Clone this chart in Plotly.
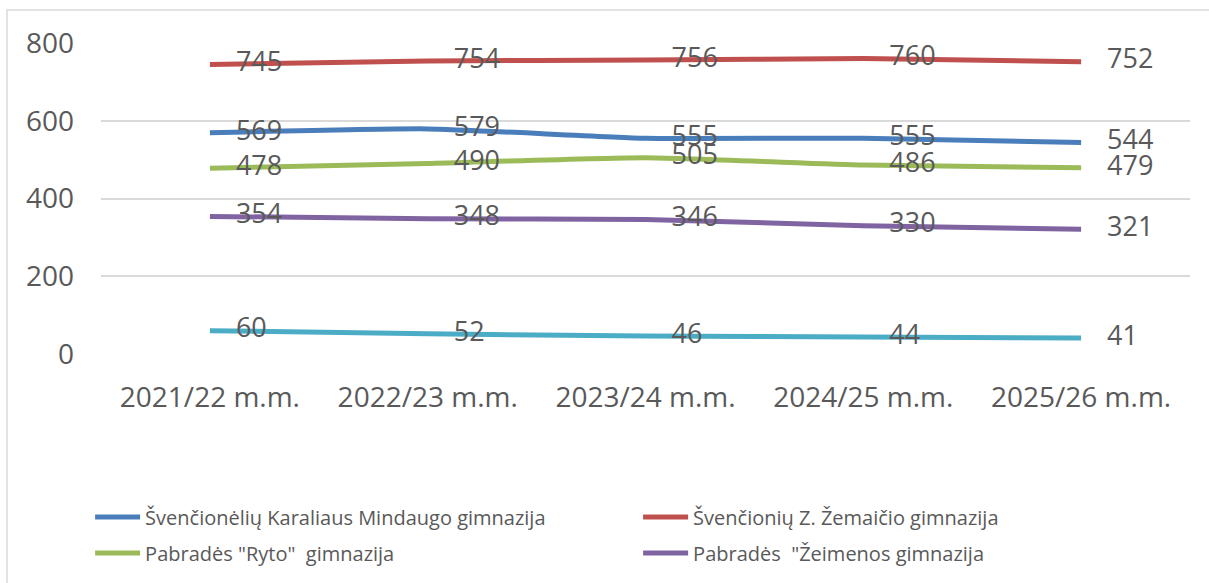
import plotly.graph_objects as go

categories = ["2021/22 m.m.", "2022/23 m.m.", "2023/24 m.m.", "2024/25 m.m.", "2025/26 m.m."]
names = [
    "Švenčionėlių Karaliaus Mindaugo gimnazija",
    "Švenčionių Z. Žemaičio gimnazija",
    "Pabradės \"Ryto\"  gimnazija",
    "Pabradės  \"Žeimenos gimnazija",
    "Serija 5",
]
blue = [569, 579, 555, 555, 544]
red = [745, 754, 756, 760, 752]
green = [478, 490, 505, 486, 479]
purple = [354, 348, 346, 330, 321]
cyan = [60, 52, 46, 44, 41]
series = [blue, red, green, purple, cyan]
colors = ["#4A7EBB", "#C0504D", "#9BBB59", "#8064A2", "#4BACC6"]
legend_ids = ["legend", "legend", "legend2", "legend2", "legend"]
tick_vals = [0, 200, 400, 600, 800]

FONT = "Open Sans"
GREY = "#595959"

fig = go.Figure()
for i, (nm, vals, col, lg) in enumerate(zip(names, series, colors, legend_ids)):
    fig.add_trace(go.Scatter(
        x=categories, y=vals, name=nm, mode="lines",
        line=dict(color=col, width=5, shape="spline", smoothing=0.5),
        showlegend=(i < 4), legend=lg, cliponaxis=False,
    ))
for i, (nm, vals, col) in enumerate(zip(names, series, colors)):
    fig.add_trace(go.Scatter(
        x=categories, y=vals, name=nm, mode="markers+text",
        marker=dict(size=40, opacity=0, color=col),
        text=[str(v) for v in vals],
        textposition="middle right",
        textfont=dict(family=FONT, size=27, color=GREY),
        showlegend=False, cliponaxis=False, hoverinfo="skip",
    ))

legend_common = dict(
    orientation="h", x=-0.01, xanchor="left", yanchor="middle",
    entrywidth=488, entrywidthmode="pixels",
    font=dict(size=20, color=GREY), itemwidth=45, bgcolor="rgba(0,0,0,0)",
)

fig.update_layout(
    width=1209, height=583,
    margin=dict(l=101, r=19, t=43, b=229, autoexpand=False),
    paper_bgcolor="white", plot_bgcolor="white",
    font=dict(family=FONT, color=GREY),
    xaxis=dict(
        type="category", range=[-0.5, 4.5], showgrid=False, showline=False,
        ticks="", tickfont=dict(size=28, color=GREY), ticklabelstandoff=24,
        automargin=False,
    ),
    yaxis=dict(
        range=[0, 800], tickvals=tick_vals, showgrid=True, gridcolor="#D9D9D9",
        gridwidth=1.5, zeroline=False, showline=False, ticks="",
        tickfont=dict(size=28, color=GREY), ticklabelstandoff=26,
        automargin=False,
    ),
    legend=dict(legend_common, y=(354 - 517) / 311),
    legend2=dict(legend_common, y=(354 - 553) / 311),
    shapes=[dict(
        type="rect", xref="paper", yref="paper",
        x0=(7 - 101) / 1089, x1=(1215 - 101) / 1089,
        y0=(354 - 600) / 311, y1=(354 - 10) / 311,
        line=dict(color="#D9D9D9", width=1.5), layer="below",
    )],
)

fig.write_html("out.html", post_script="document.body.style.margin='0';",
               config={"displayModeBar": False})
